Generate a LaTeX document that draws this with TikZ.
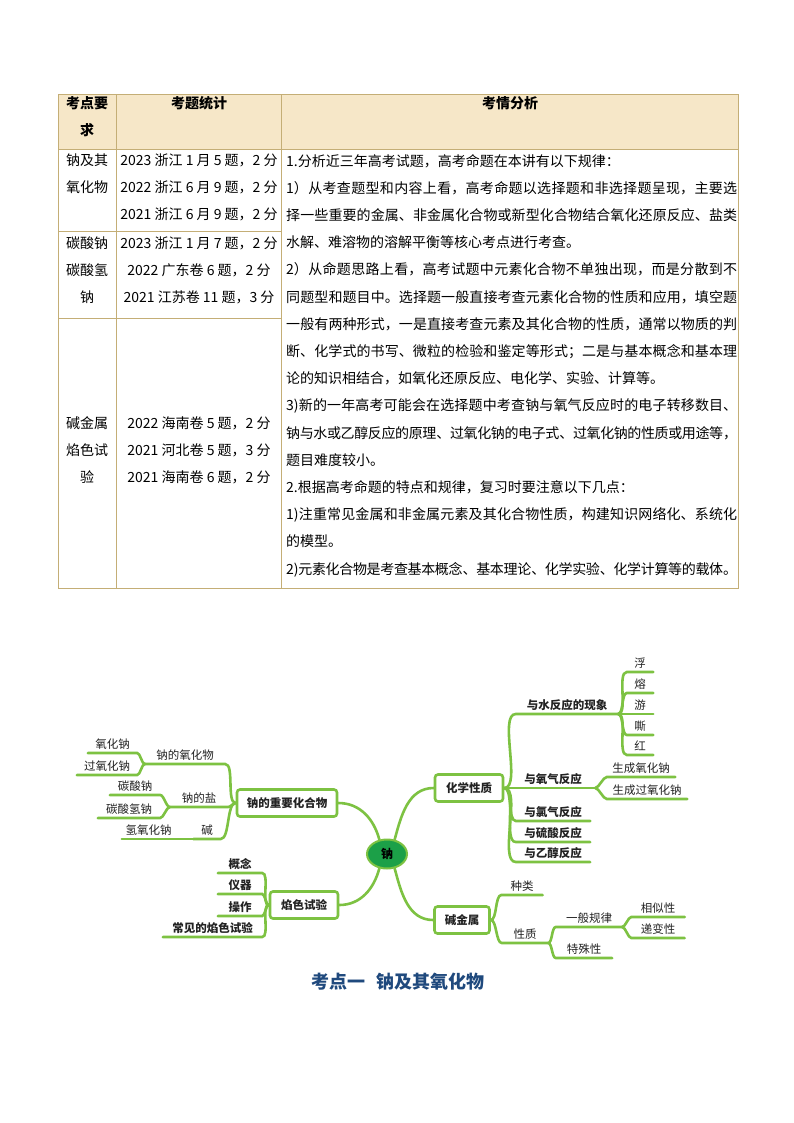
\documentclass[tikz,border=0pt]{standalone}
\usepackage{fontspec}
\setmainfont{Noto Sans CJK SC}
\usetikzlibrary{shapes.geometric}
\XeTeXlinebreaklocale "zh"
\XeTeXlinebreakskip=0pt plus 2pt minus 1pt
\setlength{\parindent}{0pt}
\definecolor{lineg}{RGB}{125,194,66}
\definecolor{hubg}{RGB}{28,160,72}
\definecolor{tabb}{RGB}{196,174,118}
\definecolor{headf}{RGB}{246,231,200}
\definecolor{titleb}{RGB}{31,73,125}
\definecolor{txt}{RGB}{35,35,35}

\begin{document}
\begin{tikzpicture}[x=1pt,y=-1pt,
    cell/.style={align=center,anchor=north,inner sep=0pt,font=\fontsize{14}{27}\selectfont},
    headtxt/.style={cell,font=\fontsize{14}{27}\selectfont\bfseries},
    conn/.style={draw=lineg,line width=2.6pt,line cap=round},
    hub/.style={ellipse,fill=hubg,draw=lineg,line width=2pt,minimum width=40,minimum height=29,inner sep=0pt,font=\fontsize{12}{12}\selectfont\bfseries},
    topic/.style={rectangle,rounded corners=3pt,draw=lineg,line width=2.6pt,fill=white,minimum height=27,inner xsep=6,text=txt,font=\fontsize{11.5}{12}\selectfont\bfseries},
    leaf/.style={anchor=south,inner xsep=0pt,inner ysep=2.5pt,text height=9pt,text depth=1.5pt,text=txt,font=\fontsize{11.5}{12}\selectfont},
    leafb/.style={leaf,font=\fontsize{11.5}{12}\selectfont\bfseries},
    rt/.style={out=0,in=180,looseness=0.6},
    lt/.style={out=180,in=0,looseness=0.6}]
    \useasboundingbox[fill=white] (0,0) rectangle (794,1123);

    % --- 1. 表格框线 ---
    \fill[headf] (58,95) rectangle (738,150); % 表头底色
    \draw[tabb,line width=1pt] (58,95) rectangle (738,588);
    \draw[tabb,line width=1pt] (58,150) -- (738,150);
    \draw[tabb,line width=1pt] (116,95) -- (116,588);
    \draw[tabb,line width=1pt] (281,95) -- (281,588);
    % 左两列的行线, 右列是合并单元格
    \draw[tabb,line width=1pt] (58,232) -- (281,232);
    \draw[tabb,line width=1pt] (58,318) -- (281,318);

    % --- 2. 表头 ---
    \node[headtxt] (h1) at (87,96) {考点要\\求};
    \node[headtxt] (h2) at (199,96) {考题统计};
    \node[headtxt] (h3) at (510,96) {考情分析};

    % --- 3. 左两列内容 ---
    \node[cell] (k1) at (87,154) {钠及其\\氧化物};
    \node[cell] (s1) at (199,154) {2023 浙江 1 月 5 题，2 分\\2022 浙江 6 月 9 题，2 分\\2021 浙江 6 月 9 题，2 分};
    \node[cell] (k2) at (87,237) {碳酸钠\\碳酸氢\\钠};
    \node[cell] (s2) at (199,237) {2023 浙江 1 月 7 题，2 分\\2022 广东卷 6 题，2 分\\2021 江苏卷 11 题，3 分};
    \node[cell] (k3) at (87,416) {碱金属\\焰色试\\验};
    \node[cell] (s3) at (199,416) {2022 海南卷 5 题，2 分\\2021 河北卷 5 题，3 分\\2021 海南卷 6 题，2 分};

    % --- 4. 考情分析 (手动断行, 两端对齐) ---
    \node[anchor=north west,text width=451,align=justify,inner sep=0pt,
          font=\fontsize{14}{27.2}\selectfont] (ana) at (286,154) {%
      1.分析近三年高考试题，高考命题在本讲有以下规律：\par
      1）从考查题型和内容上看，高考命题以选择题和非选择题呈现，主要选\linebreak
      择一些重要的金属、非金属化合物或新型化合物结合氧化还原反应、盐类\linebreak
      水解、难溶物的溶解平衡等核心考点进行考查。\par
      2）从命题思路上看，高考试题中元素化合物不单独出现，而是分散到不\linebreak
      同题型和题目中。选择题一般直接考查元素化合物的性质和应用，填空题\linebreak
      一般有两种形式，一是直接考查元素及其化合物的性质，通常以物质的判\linebreak
      断、化学式的书写、微粒的检验和鉴定等形式；二是与基本概念和基本理\linebreak
      论的知识相结合，如氧化还原反应、电化学、实验、计算等。\par
      3)新的一年高考可能会在选择题中考查钠与氧气反应时的电子转移数目、\linebreak
      钠与水或乙醇反应的原理、过氧化钠的电子式、过氧化钠的性质或用途等，\linebreak
      题目难度较小。\par
      2.根据高考命题的特点和规律，复习时要注意以下几点：\par
      1)注重常见金属和非金属元素及其化合物性质，构建知识网络化、系统化\linebreak
      的模型。\par
      2)元素化合物是考查基本概念、基本理论、化学实验、化学计算等的载体。};

    % --- 5. 思维导图: 中心和一级主题 ---
    \node[hub] (na) at (387,854) {钠};
    \node[topic,minimum width=68] (chem) at (469,788) {化学性质};
    \node[topic,minimum width=55] (alk) at (462,920) {碱金属};
    \node[topic,minimum width=100] (cmpd) at (287,803) {钠的重要化合物};
    \node[topic,minimum width=68] (flame) at (304,905) {焰色试验};
    \draw[conn] (na.62) to[out=75,in=180] (chem.west);
    \draw[conn] (na.-62) to[out=-75,in=180] (alk.west);
    \draw[conn] (na.118) to[out=105,in=0] (cmpd.east);
    \draw[conn] (na.-118) to[out=-105,in=0] (flame.east);

    % 化学性质
    \node[leafb,minimum width=102] (water) at (567,714) {与水反应的现象};
    \node[leafb,minimum width=84] (oxy) at (553,788) {与氧气反应};
    \node[leafb,minimum width=74] (cl) at (553,821) {与氯气反应};
    \node[leafb,minimum width=74] (acid) at (553,842) {与硫酸反应};
    \node[leafb,minimum width=74] (eth) at (553,862) {与乙醇反应};
    \foreach \n in {water,oxy,cl,acid,eth}
        \draw[conn] (chem.east) to[rt] (\n.south west) -- (\n.south east);
    % 浮熔游嘶红
    \foreach \n/\t/\y in {f1/浮/672,f2/熔/693,f3/游/714,f4/嘶/735,f5/红/755} {
        \node[leaf,minimum width=26] (\n) at (640,\y) {\t};
        \draw[conn] (water.south east) to[rt] (\n.south west) -- (\n.south east);
    }
    \node[leaf,minimum width=68] (ox1) at (641,777) {生成氧化钠};
    \node[leaf,minimum width=80] (ox2) at (647,799) {生成过氧化钠};
    \foreach \n in {ox1,ox2}
        \draw[conn] (oxy.south east) to[rt] (\n.south west) -- (\n.south east);

    % 碱金属
    \node[leaf,minimum width=41] (kind) at (522,895) {种类};
    \node[leaf,minimum width=46] (prop) at (525,943) {性质};
    \foreach \n in {kind,prop}
        \draw[conn] (alk.east) to[rt] (\n.south west) -- (\n.south east);
    \node[leaf,minimum width=66] (gen) at (589,927) {一般规律};
    \node[leaf,minimum width=56] (spec) at (584,958) {特殊性};
    \foreach \n in {gen,spec}
        \draw[conn] (prop.south east) to[rt] (\n.south west) -- (\n.south east);
    \node[leaf,minimum width=53] (sim) at (658,917) {相似性};
    \node[leaf,minimum width=53] (grad) at (658,938) {递变性};
    \foreach \n in {sim,grad}
        \draw[conn] (gen.south east) to[rt] (\n.south west) -- (\n.south east);

    % --- 6. 左侧分支 ---
    \node[leaf,minimum width=80] (oxd) at (185,764) {钠的氧化物};
    \node[leaf,minimum width=58] (salt) at (199,807) {钠的盐};
    \node[leaf,minimum width=27] (base) at (207,839) {碱};
    \foreach \n in {oxd,salt,base}
        \draw[conn] (cmpd.west) to[lt] (\n.south east) -- (\n.south west);
    \node[leaf,minimum width=49] (n2o) at (112.5,753) {氧化钠};
    \node[leaf,minimum width=60] (n2o2) at (107,775) {过氧化钠};
    \foreach \n in {n2o,n2o2}
        \draw[conn] (oxd.south west) to[lt] (\n.south east) -- (\n.south west);
    \node[leaf,minimum width=50] (carb) at (135,795) {碳酸钠};
    \node[leaf,minimum width=62] (bicarb) at (129,818) {碳酸氢钠};
    \foreach \n in {carb,bicarb}
        \draw[conn] (salt.south west) to[lt] (\n.south east) -- (\n.south west);
    \node[leaf,minimum width=53] (naoh) at (148.5,839) {氢氧化钠};
    \draw[conn] (base.south west) -- (naoh.south east) -- (naoh.south west);

    % 焰色试验
    \node[leafb,minimum width=44] (cpt) at (240,873) {概念};
    \node[leafb,minimum width=44] (inst) at (240,894) {仪器};
    \node[leafb,minimum width=44] (op) at (240,916) {操作};
    \node[leafb,minimum width=99] (com) at (212.5,937) {常见的焰色试验};
    \foreach \n in {cpt,inst,op,com}
        \draw[conn] (flame.west) to[lt] (\n.south east) -- (\n.south west);

    % --- 7. 标题 ---
    \node[text=titleb,font=\fontsize{18}{18}\selectfont\bfseries] (ttl) at (398,982) {考点一\hspace{0.6em}钠及其氧化物};

\end{tikzpicture}
\end{document}
